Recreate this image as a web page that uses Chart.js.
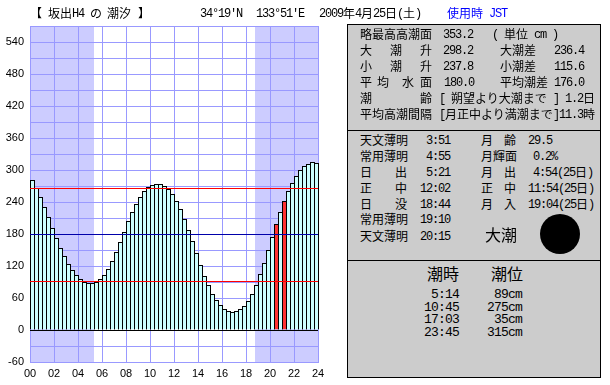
<!DOCTYPE html>
<html lang="ja"><head><meta charset="utf-8">
<script src="https://cdn.jsdelivr.net/npm/chart.js@4"></script>
<style>
html,body{margin:0;padding:0;background:#fff;width:610px;height:385px;overflow:hidden}
#c{position:absolute;left:0;top:0}
.box{position:absolute;background:#ccc;border:1px solid #000;box-sizing:border-box}
.t{position:absolute;white-space:pre;line-height:1;color:#000}
#moon{position:absolute;background:#000;border-radius:50%;width:40px;height:40px;left:540px;top:214px}
</style></head><body>
<canvas id="c" width="610" height="385"></canvas>
<div class="box" style="left:347px;top:24px;width:254px;height:107px"></div>
<div class="box" style="left:347px;top:130px;width:254px;height:131px"></div>
<div class="box" style="left:347px;top:260px;width:254px;height:118px"></div>
<div id="moon"></div>
<div id="txt"></div>
<script>
// Tide height (cm) for each 20-minute bar, 00:00-24:00
const tideValues=[281.25,266.25,249.375,230.625,211.875,191.25,172.5,153.75,138.75,123.75,112.5,103.125,
95.625,90,88.125,88.125,90,95.625,103.125,114.375,129.375,146.25,165,183.75,
204.375,221.25,236.25,249.375,260.625,268.125,271.875,273.75,273.75,270,264.375,255,
241.875,226.875,208.125,187.5,166.875,144.375,121.875,101.25,84.375,67.5,56.25,46.875,
39.375,35.625,33.75,35.625,39.375,45,54.375,67.5,84.375,105,125.625,150,
174.375,198.75,221.25,241.875,260.625,275.625,288.75,300,307.5,311.25,315,313.125];
const highlightedBars=[61,63];
const nightSpans=[[0,5.35],[18.73,24]];
const refLines=[{y:266.25,color:'#ff0000'},{y:180,color:'#0000aa'},{y:91.875,color:'#ff0000'}];
const yTickLabelStep=60;

const titleTexts=[[30,14,'【'],[48,14,'坂出H4'],[90,14,'の'],[107,14,'潮汐'],[138,14,'】'],
[200,14,"34°19'N"],[256,14,"133°51'E"],[319,14,'2009年4月25日(土)']];
const unitTexts=[[447,14,'使用時 JST','#0000ff']];
const datumTexts=[
[360,35,'略最高高潮面'],[443,35,'353.2'],[492,35,'( 単位 cm )'],
[360,51,'大'],[390,51,'潮'],[420,51,'升'],[443,51,'298.2'],[500,51,'大潮差'],[554,51,'236.4'],
[360,67,'小'],[390,67,'潮'],[420,67,'升'],[443,67,'237.8'],[500,67,'小潮差'],[554,67,'115.6'],
[360,83,'平'],[377,83,'均'],[402,83,'水'],[420,83,'面'],[444,83,'180.0'],[500,83,'平均潮差'],[554,83,'176.0'],
[360,99,'潮'],[420,99,'齢'],[439,99,'[ 朔望より大潮まで ] 1.2日'],
[360,115,'平均高潮間隔'],[439,115,'[月正中より満潮まで]11.3時']];
const almanacTexts=[
[360,141,'天文薄明'],[426,141,'3:51'],[481,141,'月'],[504,141,'齢'],[528,141,'29.5'],
[360,157,'常用薄明'],[426,157,'4:55'],[481,157,'月輝面'],[533,157,'0.2%'],
[360,173,'日'],[395,173,'出'],[426,173,'5:21'],[481,173,'月'],[504,173,'出'],[533,173,'4:54(25日)'],
[360,189,'正'],[395,189,'中'],[420,189,'12:02'],[481,189,'正'],[504,189,'中'],[528,189,'11:54(25日)'],
[360,205,'日'],[395,205,'没'],[420,205,'18:44'],[481,205,'月'],[504,205,'入'],[528,205,'19:04(25日)'],
[360,220,'常用薄明'],[420,220,'19:10'],
[360,237,'天文薄明'],[420,237,'20:15']];
const tideTypeText=[485,235,'大潮'];
const tideHeaders=[[427,274,'潮時'],[491,274,'潮位']];
const tideTimes=[[431,295,' 5:14'],[424,308,'10:45'],[424,320,'17:03'],[424,333,'23:45']];
const tideLevels=[[487,295,' 89cm'],[487,308,'275cm'],[487,320,' 35cm'],[487,333,'315cm']];

// Lays text out on the half-width grid of the original: ASCII = 1 unit, CJK = 2 units
const host=document.getElementById('txt');
function put(x,y,str,unit,color){
  let cur=x,run='',ascii=null;
  const flush=()=>{ if(!run)return;
    const s=document.createElement('span'); s.className='t'; s.textContent=run;
    const size=ascii?unit+6:unit*2;
    s.style.cssText=`left:${cur}px;top:${y-size/2-(ascii?0.5:1)}px;font-size:${size}px;color:${color||'#000'};`+
      (ascii?`font-family:"Liberation Mono",monospace;letter-spacing:${unit-size*0.6}px`:'font-family:"Noto Sans CJK JP",sans-serif');
    host.appendChild(s); cur+=[...run].length*(ascii?unit:unit*2); run=''; };
  for(const ch of str){ const a=ch.charCodeAt(0)<0x100;
    if(a!==ascii){flush();ascii=a;} run+=ch; }
  flush();
}
[...titleTexts,...datumTexts,...almanacTexts].forEach(r=>put(r[0],r[1],r[2],6));
unitTexts.forEach(r=>put(r[0],r[1],r[2],6,r[3]));
put(tideTypeText[0],tideTypeText[1],tideTypeText[2],8);
tideHeaders.forEach(r=>put(r[0],r[1],r[2],8));
tideTimes.forEach(r=>put(r[0]-(r[2][0]===' '?7:0),r[1],r[2],7));
tideLevels.forEach(r=>put(r[0],r[1],r[2],7));

const nightPlugin={id:'night',beforeDraw(ch){
  const {ctx,chartArea:a,scales:{x}}=ch; ctx.save(); ctx.fillStyle='#ccccff';
  nightSpans.forEach(([s,e])=>{const l=Math.round(x.getPixelForValue(s)),r=Math.round(x.getPixelForValue(e));ctx.fillRect(l,a.top,r-l,a.bottom-a.top+1);});
  ctx.restore();}};
// Puts bars and reference lines on the pixel grid
const gridSnap={id:'snap',
  beforeDatasetDraw(ch,args){const c=ch.ctx;c.save();
    if(ch.data.datasets[args.index].type==='bar')c.translate(.5,0);
    else c.translate(0,ch.data.datasets[args.index].snapY);},
  afterDatasetDraw(ch){ch.ctx.restore();}};

const lineSets=refLines.map(l=>({type:'line',data:[{x:0,y:l.y},{x:24,y:l.y}],borderColor:l.color,borderWidth:1,
  pointRadius:0,order:0,snapY:.5,clip:false}));
lineSets.push({type:'line',data:[{x:0,y:0},{x:24,y:0}],borderColor:'#000',borderWidth:1,pointRadius:0,order:1,snapY:.5,clip:false});

new Chart(document.getElementById('c'),{
  type:'bar',
  data:{datasets:[{type:'bar',
    data:tideValues.map((v,i)=>({x:(i+.5)/3,y:v})),
    backgroundColor:tideValues.map((v,i)=>highlightedBars.includes(i)?'#ff3333':'#ccffff'),
    borderColor:'#000',borderWidth:1,barThickness:5,inflateAmount:0,grouped:false,order:2,clip:false},...lineSets]},
  plugins:[nightPlugin,gridSnap],
  options:{responsive:false,animation:false,
    layout:{padding:{left:0,top:26,right:292,bottom:0}},
    plugins:{legend:{display:false},tooltip:{enabled:false}},
    scales:{
      x:{type:'linear',min:0,max:24,offset:false,
        grid:{color:'#9999ff',lineWidth:1,drawTicks:false,offset:false},border:{color:'#9999ff'},
        afterBuildTicks(s){s.ticks=[];for(let h=0;h<=24;h+=2)s.ticks.push({value:h});},
        afterFit(s){s.height=23;},
        ticks:{autoSkip:false,maxRotation:0,padding:5,color:'#000',font:{family:'"Liberation Sans"',size:11},
          callback:v=>String(v).padStart(2,'0')}},
      y:{min:-60,max:570,
        grid:{color:'#9999ff',lineWidth:1,drawTicks:false},border:{color:'#9999ff'},
        afterBuildTicks(s){s.ticks=[];for(let v=-60;v<=570;v+=30)s.ticks.push({value:v});},
        afterFit(s){s.width=30;},
        ticks:{autoSkip:false,padding:6,color:'#000',font:{family:'"Liberation Sans"',size:11},
          callback:v=>(v%yTickLabelStep===0)?String(v):''}}
    }}
});
</script></body></html>
